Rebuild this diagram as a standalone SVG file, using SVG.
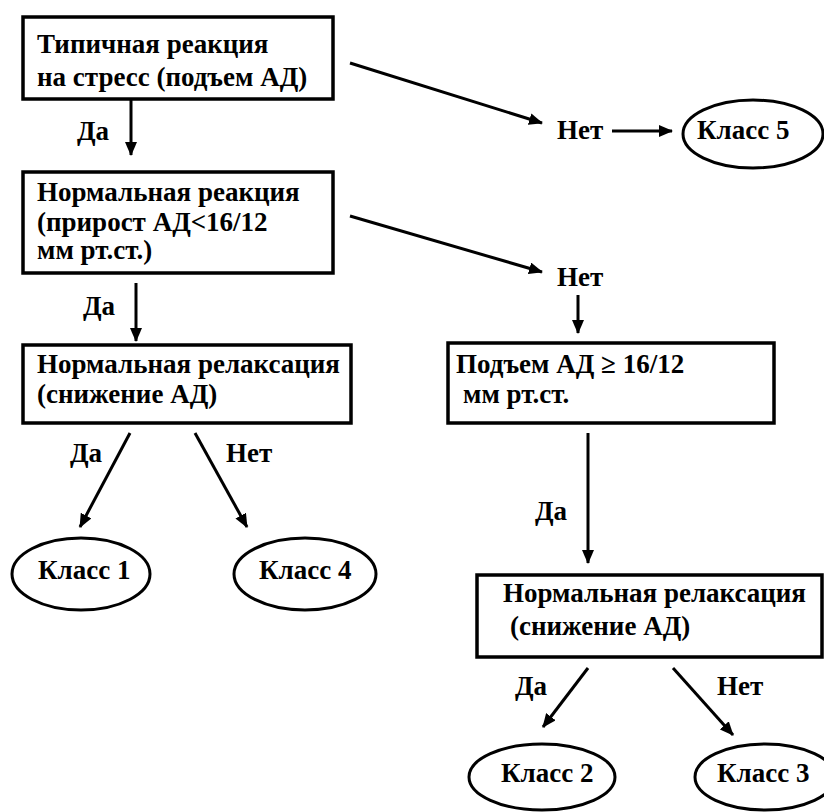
<svg xmlns="http://www.w3.org/2000/svg" width="824" height="812" viewBox="0 0 824 812">
<defs>
<marker id="ah" markerUnits="userSpaceOnUse" viewBox="0 0 14 12" markerWidth="14" markerHeight="12" refX="13" refY="6" orient="auto">
<path d="M0,0 L14,6 L0,12 Z" fill="#000"/>
</marker>
</defs>
<rect width="824" height="812" fill="#fff"/>
<g font-weight="bold" font-size="27" fill="#000">
<g id="connectors" stroke="#000" stroke-width="3" fill="none" marker-end="url(#ah)">
<line x1="131" y1="99" x2="131" y2="155"/>
<line x1="350" y1="63" x2="542" y2="123"/>
<line x1="612" y1="131" x2="672" y2="131"/>
<line x1="350" y1="216" x2="542" y2="272"/>
<line x1="578" y1="295" x2="578" y2="333"/>
<line x1="136" y1="283" x2="136" y2="341"/>
<line x1="130" y1="433" x2="80" y2="527"/>
<line x1="195" y1="433" x2="247" y2="527"/>
<line x1="588" y1="433" x2="588" y2="563"/>
<line x1="588" y1="668" x2="543" y2="727"/>
<line x1="673" y1="668" x2="733" y2="735"/>
</g>
<g id="labels">
<text x="77" y="140" font-family="Liberation Serif">Да</text>
<text x="557" y="139" font-family="Liberation Serif">Нет</text>
<text x="557" y="286" font-family="Liberation Serif">Нет</text>
<text x="83" y="315" font-family="Liberation Serif">Да</text>
<text x="70" y="462" font-family="Liberation Serif">Да</text>
<text x="226" y="462" font-family="Liberation Serif">Нет</text>
<text x="535" y="520" font-family="Liberation Serif">Да</text>
<text x="515" y="695" font-family="Liberation Serif">Да</text>
<text x="717" y="695" font-family="Liberation Serif">Нет</text>
</g>
<g id="n1">
<rect x="23" y="17" width="310" height="82" fill="#fff" stroke="#000" stroke-width="3.5"/>
<text x="37" y="53" font-family="Liberation Serif">Типичная реакция</text>
<text x="37" y="86" font-family="Liberation Serif">на стресс (подъем АД)</text>
</g>
<g id="n2">
<rect x="23" y="172" width="310" height="101" fill="#fff" stroke="#000" stroke-width="3.5"/>
<text x="37" y="201" font-family="Liberation Serif">Нормальная реакция</text>
<text x="37" y="231" font-family="Liberation Serif">(прирост АД&lt;16/12</text>
<text x="37" y="259" font-family="Liberation Serif">мм рт.ст.)</text>
</g>
<g id="n3">
<rect x="23" y="345" width="328" height="78" fill="#fff" stroke="#000" stroke-width="3.5"/>
<text x="37" y="373" font-family="Liberation Serif">Нормальная релаксация</text>
<text x="37" y="403" font-family="Liberation Serif">(снижение АД)</text>
</g>
<g id="n4">
<rect x="448" y="343" width="326" height="80" fill="#fff" stroke="#000" stroke-width="3.5"/>
<text x="456" y="373" font-family="Liberation Serif">Подъем АД ≥ 16/12</text>
<text x="463" y="403" font-family="Liberation Serif">мм рт.ст.</text>
</g>
<g id="n5">
<rect x="477" y="575" width="345" height="82" fill="#fff" stroke="#000" stroke-width="3.5"/>
<text x="503" y="602" font-family="Liberation Serif">Нормальная релаксация</text>
<text x="510" y="635" font-family="Liberation Serif">(снижение АД)</text>
</g>
<g id="k5">
<ellipse cx="753" cy="134" rx="70" ry="34" fill="#fff" stroke="#000" stroke-width="3"/>
<text x="697" y="139" font-family="Liberation Serif">Класс 5</text>
</g>
<g id="k1">
<ellipse cx="81" cy="574" rx="69" ry="36" fill="#fff" stroke="#000" stroke-width="3"/>
<text x="38" y="579" font-family="Liberation Serif">Класс 1</text>
</g>
<g id="k4">
<ellipse cx="305" cy="574" rx="71" ry="36" fill="#fff" stroke="#000" stroke-width="3"/>
<text x="259" y="579" font-family="Liberation Serif">Класс 4</text>
</g>
<g id="k2">
<ellipse cx="542" cy="777" rx="73" ry="33" fill="#fff" stroke="#000" stroke-width="3"/>
<text x="501" y="782" font-family="Liberation Serif">Класс 2</text>
</g>
<g id="k3">
<ellipse cx="765" cy="777" rx="70" ry="33" fill="#fff" stroke="#000" stroke-width="3"/>
<text x="717" y="782" font-family="Liberation Serif">Класс 3</text>
</g>
</g>
</svg>
